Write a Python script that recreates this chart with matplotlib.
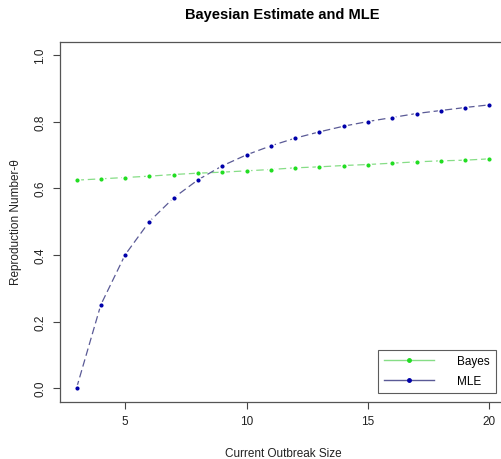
import numpy as np
import matplotlib
matplotlib.use('Agg')
import matplotlib.pyplot as plt
from matplotlib.lines import Line2D
matplotlib.rcParams['font.family'] = ['Liberation Sans', 'DejaVu Sans']

# values
size = [3, 4, 5, 6, 7, 8, 9, 10, 11, 12, 13, 14, 15, 16, 17, 18, 19, 20]
bayes = [0.624, 0.628, 0.632, 0.636, 0.641, 0.645, 0.648, 0.652, 0.656, 0.661,
         0.664, 0.668, 0.671, 0.675, 0.679, 0.682, 0.684, 0.688]
mle = [0.0, 0.25, 0.40, 0.50, 0.571, 0.625, 0.667, 0.70, 0.727, 0.75,
       0.769, 0.786, 0.80, 0.812, 0.824, 0.833, 0.842, 0.85]
xticks = [5, 10, 15, 20]
yticks = [0.0, 0.2, 0.4, 0.6, 0.8, 1.0]

fig = plt.figure(figsize=(5.02, 4.6), dpi=100)
ax = fig.add_axes([60/502, (460-402.5)/460, 446/502, 360/460])

c_bl, c_bp = '#86dd86', '#22dd22'
c_ml, c_mp = '#5a5a96', '#0000aa'

ax.plot(size, bayes, color=c_bl, lw=0.9, dashes=(6, 3))
ax.plot(size, bayes, ls='none', marker='o', ms=4.2, mfc=c_bp, mec='white', mew=1.2)
ax.plot(size, mle, color=c_ml, lw=0.9, dashes=(6, 3))
ax.plot(size, mle, ls='none', marker='o', ms=4.2, mfc=c_mp, mec='white', mew=1.2)

ax.set_xlim(2.32, 20.68)
ax.set_ylim(-0.04, 1.04)
ax.set_xticks(xticks)
ax.set_yticks(yticks)
ax.set_xticklabels([str(t) for t in xticks], fontsize=8.5, color='#222222')
ax.set_yticklabels(['%.1f' % t for t in yticks], fontsize=8.5, rotation=90,
                   va='center', color='#222222')
ax.tick_params(length=5, width=0.8, color='#444444', pad=5)
for s in ax.spines.values():
    s.set_color('#555555')
    s.set_linewidth(0.9)

ax.set_xlabel('Current Outbreak Size', fontsize=8.5, color='#222222', labelpad=14)
ax.set_ylabel('Reproduction Number-θ', fontsize=8.5, color='#222222', labelpad=9)
fig.text(282/502, 1 - 15/460, 'Bayesian Estimate and MLE', ha='center', va='center',
         fontsize=10.5, fontweight='bold')

# legend like R's legend() in the bottom right
h1 = Line2D([], [], color=c_bl, lw=1, marker='o', ms=2.5, mfc=c_bp, mec=c_bp)
h2 = Line2D([], [], color=c_ml, lw=1, marker='o', ms=2.5, mfc=c_mp, mec=c_mp)
leg = ax.legend([h1, h2], ['Bayes', 'MLE'], loc='lower right',
                bbox_to_anchor=(496/502, (460-394)/460), bbox_transform=fig.transFigure,
                fontsize=8.5, frameon=True, fancybox=False, handlelength=4.2,
                handletextpad=2.0, borderpad=0.5, labelspacing=0.65, borderaxespad=0)
leg.get_frame().set_edgecolor('#333333')
leg.get_frame().set_linewidth(0.8)

fig.savefig('out.png', dpi=100)
